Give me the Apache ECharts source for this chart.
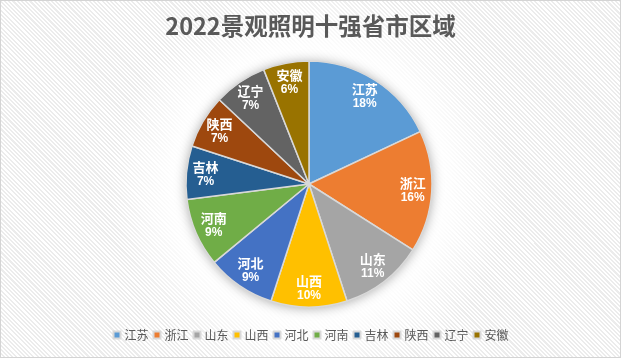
<!DOCTYPE html>
<html>
<head>
<meta charset="utf-8">
<script src="https://cdn.jsdelivr.net/npm/echarts@6/dist/echarts.min.js"></script>
<style>
html,body{margin:0;padding:0;}
#wrap{position:relative;width:621px;height:358px;box-sizing:border-box;border:1px solid #d4d4d4;
background:
radial-gradient(circle at 309px 184px, rgba(255,255,255,1) 118px, rgba(255,255,255,0.85) 140px, rgba(255,255,255,0) 200px),
repeating-linear-gradient(45deg, #ffffff 0px, #ffffff 1.5px, #ececec 1.5px, #ececec 3px);}
#chart{width:619px;height:356px;}
</style>
</head>
<body>
<div id="wrap"><div id="chart"></div></div>
<script>
const titleText = '2022景观照明十强省市区域';
const categories = ['江苏','浙江','山东','山西','河北','河南','吉林','陕西','辽宁','安徽'];
const values = [18,16,11,10,9,9,7,7,7,6];
const colors = ['#5B9BD5','#ED7D31','#A5A5A5','#FFC000','#4472C4','#70AD47','#255E91','#9E480E','#636363','#997300'];

const data = categories.map((c,i)=>({name:c, value:values[i]}));
const total = values.reduce((a,b)=>a+b,0);
const font = '"Noto Sans CJK SC", "Noto Sans", sans-serif';
const center = [308, 183];
const R = 123;

const chart = echarts.init(document.getElementById('chart'));
chart.setOption({
  animation:false,
  color: colors,
  title:{text:titleText,left:'center',top:8,textStyle:{fontFamily:font,fontSize:23.5,fontWeight:'bold',color:'#595959'}},
  legend:{
    data: categories, bottom:11, left:'center', itemWidth:7, itemHeight:7, itemGap:4,
    icon:'rect', textStyle:{fontFamily:font,fontSize:12,color:'#595959',padding:[0,0,0,-1]}
  },
  series:[
    {
      type:'pie', center:center, radius:[0,R], silent:true, z:1,
      data:[{value:1,name:'_bg',itemStyle:{color:'#ffffff',shadowBlur:12,shadowColor:'rgba(0,0,0,0.35)',shadowOffsetY:1}}],
      label:{show:false}, labelLine:{show:false}, legendHoverLink:false
    },
    {
      type:'pie', center:center, radius:[0,R], z:2, startAngle:90, clockwise:true,
      data:data,
      itemStyle:{borderColor:'#d9d9d9',borderWidth:1.5},
      label:{show:false}, labelLine:{show:false}
    },
    {
      type:'pie', center:center, radius:[R*0.64,R], z:3, startAngle:90, clockwise:true, silent:true,
      data:data.map(d=>({name:d.name,value:d.value,itemStyle:{color:'rgba(0,0,0,0)'}})),
      itemStyle:{borderWidth:0},
      legendHoverLink:false,
      label:{
        show:true, position:'inside',
        formatter: p => '{n|'+p.name+'}\n{p|'+Math.round(p.value/total*100)+'%}',
        rich:{
          n:{fontFamily:font,fontSize:13,fontWeight:'bold',color:'#ffffff',lineHeight:15},
          p:{fontFamily:'"Liberation Sans", sans-serif',fontSize:12,fontWeight:'bold',color:'#ffffff',lineHeight:14}
        }
      },
      labelLine:{show:false}
    }
  ]
});
</script>
</body>
</html>
